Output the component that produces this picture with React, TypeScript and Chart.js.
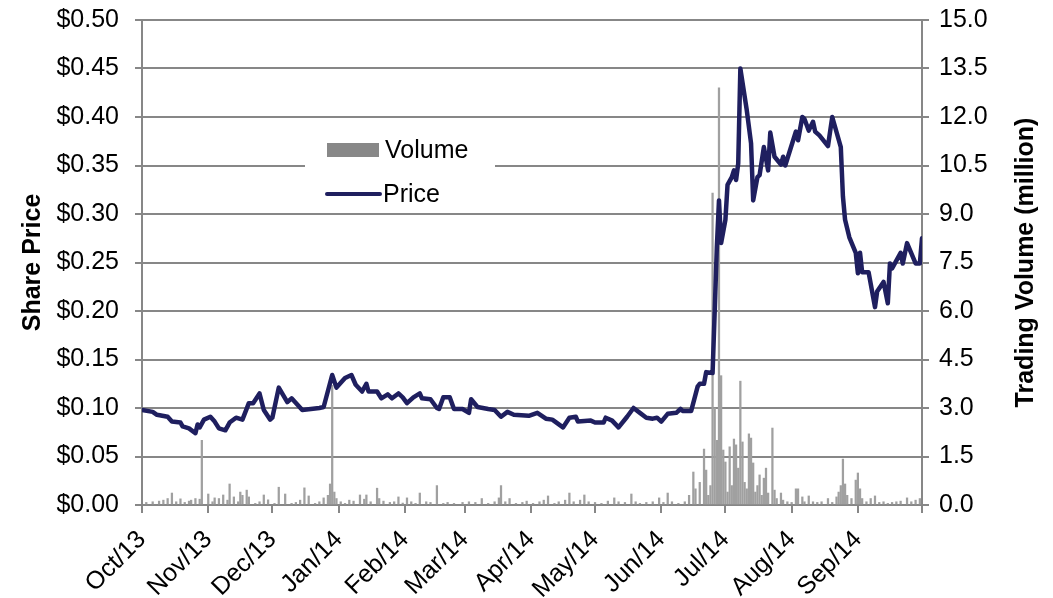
import React, { useEffect, useRef } from "react";
import { Chart, registerables } from "chart.js";

Chart.register(...registerables);

// Day index counted from 1 Oct 2013
const monthTickDays = [0, 31, 61, 92, 123, 151, 182, 212, 243, 273, 304, 335, 365];
const monthLabels = ["Oct/13", "Nov/13", "Dec/13", "Jan/14", "Feb/14", "Mar/14", "Apr/14", "May/14", "Jun/14", "Jul/14", "Aug/14", "Sep/14", ""];

const priceDays = [0, 5, 7, 12, 14, 18, 19, 22, 25, 26, 27, 29, 32, 34, 36, 39, 41, 44, 47, 50, 52, 55, 57, 60, 61, 64, 68, 70, 75, 83, 85, 89, 91, 93, 95, 98, 100, 103, 105, 106, 110, 112, 115, 117, 120, 122, 124, 127, 130, 131, 135, 138, 139, 141, 144, 146, 150, 153, 154, 157, 162, 165, 168, 171, 174, 181, 185, 189, 192, 197, 200, 203, 204, 210, 212, 216, 217, 220, 223, 227, 230, 233, 236, 239, 241, 243, 246, 250, 252, 253, 257, 260, 261, 263, 264, 267, 268, 269, 270, 271, 273, 274, 276, 277, 278, 279, 280, 283, 285, 286, 288, 289, 291, 293, 294, 296, 299, 300, 301, 306, 307, 309, 310, 312, 314, 315, 317, 321, 323, 327, 328, 329, 331, 334, 335, 336, 337, 340, 343, 344, 347, 349, 350, 351, 355, 356, 358, 362, 364, 365];
const priceValues = [0.098, 0.096, 0.093, 0.091, 0.086, 0.085, 0.081, 0.079, 0.074, 0.083, 0.080, 0.088, 0.091, 0.086, 0.079, 0.077, 0.085, 0.090, 0.088, 0.105, 0.105, 0.115, 0.098, 0.088, 0.090, 0.121, 0.106, 0.110, 0.098, 0.100, 0.101, 0.134, 0.121, 0.126, 0.131, 0.134, 0.124, 0.117, 0.125, 0.117, 0.117, 0.110, 0.114, 0.110, 0.115, 0.111, 0.105, 0.111, 0.115, 0.110, 0.109, 0.100, 0.099, 0.111, 0.111, 0.099, 0.099, 0.095, 0.109, 0.101, 0.099, 0.098, 0.091, 0.096, 0.093, 0.092, 0.095, 0.089, 0.088, 0.080, 0.090, 0.091, 0.086, 0.087, 0.085, 0.085, 0.090, 0.087, 0.080, 0.091, 0.100, 0.095, 0.090, 0.089, 0.090, 0.086, 0.094, 0.095, 0.099, 0.097, 0.097, 0.122, 0.125, 0.125, 0.137, 0.136, 0.200, 0.266, 0.314, 0.270, 0.294, 0.330, 0.338, 0.345, 0.335, 0.352, 0.450, 0.407, 0.373, 0.314, 0.338, 0.340, 0.369, 0.345, 0.384, 0.359, 0.351, 0.359, 0.350, 0.385, 0.376, 0.400, 0.398, 0.386, 0.395, 0.385, 0.381, 0.370, 0.400, 0.369, 0.318, 0.294, 0.276, 0.260, 0.239, 0.260, 0.240, 0.240, 0.204, 0.220, 0.230, 0.208, 0.249, 0.244, 0.260, 0.249, 0.270, 0.249, 0.249, 0.275];

const volumeDays = [2, 5, 8, 10, 12, 14, 16, 18, 20, 22, 23, 25, 27, 28, 31, 33, 34, 36, 38, 40, 41, 43, 45, 46, 47, 49, 50, 53, 55, 57, 59, 62, 64, 67, 70, 72, 74, 76, 78, 81, 83, 85, 87, 88, 89, 90, 91, 93, 95, 97, 99, 102, 104, 105, 107, 110, 111, 113, 116, 118, 120, 122, 124, 126, 128, 130, 133, 135, 138, 141, 143, 146, 150, 153, 156, 159, 162, 165, 167, 168, 170, 172, 175, 178, 180, 183, 186, 188, 190, 193, 195, 198, 200, 202, 205, 207, 209, 212, 215, 218, 221, 223, 226, 229, 231, 233, 236, 239, 242, 244, 246, 248, 251, 254, 256, 258, 259, 261, 263, 264, 265, 266, 267, 268, 269, 270, 271, 272, 273, 274, 275, 276, 277, 278, 279, 280, 281, 282, 283, 284, 285, 286, 287, 288, 289, 290, 291, 292, 293, 295, 296, 297, 299, 300, 302, 304, 306, 307, 309, 310, 312, 314, 316, 318, 321, 323, 325, 326, 327, 328, 329, 330, 332, 334, 335, 336, 337, 339, 341, 343, 345, 347, 349, 351, 353, 355, 358, 360, 362, 364];
const volumeValues = [0.08, 0.1, 0.12, 0.15, 0.2, 0.37, 0.1, 0.19, 0.08, 0.12, 0.15, 0.2, 0.18, 2.0, 0.34, 0.1, 0.22, 0.2, 0.31, 0.15, 0.65, 0.25, 0.1, 0.4, 0.3, 0.46, 0.25, 0.05, 0.1, 0.31, 0.16, 0.05, 0.55, 0.34, 0.05, 0.08, 0.15, 0.53, 0.28, 0.05, 0.1, 0.22, 0.3, 0.65, 3.7, 0.4, 0.2, 0.1, 0.05, 0.15, 0.12, 0.31, 0.18, 0.31, 0.1, 0.52, 0.2, 0.12, 0.08, 0.1, 0.25, 0.06, 0.22, 0.1, 0.05, 0.37, 0.1, 0.08, 0.6, 0.05, 0.08, 0.05, 0.08, 0.1, 0.08, 0.2, 0.05, 0.1, 0.22, 0.6, 0.1, 0.2, 0.05, 0.08, 0.12, 0.05, 0.1, 0.15, 0.28, 0.05, 0.1, 0.15, 0.37, 0.1, 0.15, 0.31, 0.1, 0.08, 0.05, 0.12, 0.22, 0.1, 0.08, 0.34, 0.1, 0.05, 0.08, 0.1, 0.22, 0.08, 0.37, 0.1, 0.05, 0.1, 0.3, 1.02, 0.5, 0.7, 1.73, 1.08, 0.3, 0.6, 9.65, 3.0, 2.0, 12.9, 4.0, 1.7, 1.33, 0.4, 1.8, 0.6, 2.04, 1.86, 1.14, 3.83, 1.95, 0.7, 0.5, 2.2, 2.07, 1.3, 0.4, 0.6, 0.93, 0.3, 0.83, 1.14, 0.37, 2.38, 0.46, 0.2, 0.37, 0.15, 0.1, 0.08, 0.5, 0.5, 0.25, 0.1, 0.28, 0.1, 0.08, 0.1, 0.2, 0.08, 0.25, 0.4, 0.6, 1.42, 0.65, 0.3, 0.2, 0.77, 0.99, 0.5, 0.2, 0.1, 0.2, 0.28, 0.08, 0.1, 0.05, 0.08, 0.1, 0.12, 0.22, 0.1, 0.15, 0.2];

const priceTicks = [0, 0.05, 0.1, 0.15, 0.2, 0.25, 0.3, 0.35, 0.4, 0.45, 0.5];
const volumeTicks = [0, 1.5, 3, 4.5, 6, 7.5, 9, 10.5, 12, 13.5, 15];

const FONT = "'Liberation Sans', Arial, sans-serif";
const GRID = "#878787";
const PRICE_COLOR = "#1f1f5f";
const VOLUME_COLOR = "#a0a0a0";

const overlayPlugin = {
  id: "overlay",
  afterDraw(chart: any) {
    const { ctx, chartArea } = chart;
    const L = chartArea.left;
    const T = chartArea.top;
    ctx.save();
    // legend box
    ctx.fillStyle = "#ffffff";
    ctx.fillRect(L + 163, T + 110, 190, 82);
    const ds = chart.data.datasets;
    ctx.font = `25px ${FONT}`;
    ctx.textBaseline = "middle";
    ctx.textAlign = "left";
    // Volume
    ctx.fillStyle = "#888888";
    ctx.fillRect(L + 185, T + 123, 52, 14);
    ctx.fillStyle = "#000";
    ctx.fillText(ds[0].label, L + 243, T + 131);
    // Price
    ctx.strokeStyle = PRICE_COLOR;
    ctx.lineWidth = 4;
    ctx.lineCap = "round";
    ctx.beginPath();
    ctx.moveTo(L + 185, T + 174);
    ctx.lineTo(L + 238, T + 174);
    ctx.stroke();
    ctx.fillText(ds[1].label, L + 241, T + 175);
    // axis titles
    const midY = (chartArea.top + chartArea.bottom) / 2;
    ctx.font = `bold 25px ${FONT}`;
    ctx.textAlign = "center";
    ctx.save();
    ctx.translate(33, midY);
    ctx.rotate(-Math.PI / 2);
    ctx.fillText("Share Price", 0, 0);
    ctx.restore();
    ctx.save();
    ctx.translate(1026, midY);
    ctx.rotate(-Math.PI / 2);
    ctx.fillText("Trading Volume (million)", 0, 0);
    ctx.restore();
    ctx.restore();
  },
};

const trimPadding = (scale: any) => {
  scale.paddingTop = 10;
  scale.paddingBottom = 10;
};

export default function App() {
  const canvasRef = useRef<HTMLCanvasElement | null>(null);

  useEffect(() => {
    if (!canvasRef.current) return;
    const chart = new Chart(canvasRef.current, {
      type: "bar",
      data: {
        datasets: [
          {
            type: "bar",
            label: "Volume",
            data: volumeDays.map((d, i) => ({ x: d, y: volumeValues[i] })),
            backgroundColor: VOLUME_COLOR,
            borderWidth: 0,
            barThickness: 1.6,
            yAxisID: "yVol",
            order: 2,
          },
          {
            type: "line",
            label: "Price",
            data: priceDays.map((d, i) => ({ x: d, y: priceValues[i] })),
            borderColor: PRICE_COLOR,
            backgroundColor: PRICE_COLOR,
            borderWidth: 4.5,
            borderJoinStyle: "round",
            borderCapStyle: "round",
            pointRadius: 0,
            tension: 0,
            yAxisID: "yPrice",
            order: 1,
          },
        ] as any,
      },
      options: {
        animation: false,
        responsive: true,
        maintainAspectRatio: false,
        layout: { padding: { top: 20, left: 0, right: 0, bottom: 0 } },
        plugins: {
          legend: { display: false },
          tooltip: { enabled: false },
        },
        events: [],
        scales: {
          x: {
            type: "linear",
            min: 0,
            max: 365,
            offset: false,
            afterBuildTicks: (scale: any) => {
              scale.ticks = monthTickDays.map((v) => ({ value: v }));
            },
            afterFit: (scale: any) => {
              scale.height = 93;
            },
            ticks: {
              autoSkip: false,
              minRotation: 45,
              maxRotation: 45,
              padding: 12,
              color: "#000",
              font: { family: FONT, size: 25 },
              callback: (value: any) => {
                const i = monthTickDays.indexOf(Number(value));
                return i >= 0 ? monthLabels[i] : "";
              },
            },
            grid: { offset: false, drawOnChartArea: false, drawTicks: true, tickLength: 8, color: GRID, lineWidth: 2 },
            border: { display: true, color: GRID, width: 2 },
          },
          yPrice: {
            type: "linear",
            position: "left",
            min: 0,
            max: 0.5,
            afterBuildTicks: (scale: any) => {
              scale.ticks = priceTicks.map((v) => ({ value: v }));
            },
            afterFit: (scale: any) => {
              scale.width = 142;
              trimPadding(scale);
            },
            ticks: {
              padding: 16,
              color: "#000",
              font: { family: FONT, size: 25 },
              callback: (value: any) => "$" + Number(value).toFixed(2),
            },
            grid: { color: GRID, lineWidth: 2, tickLength: 7 },
            border: { display: true, color: GRID, width: 2 },
          },
          yVol: {
            type: "linear",
            position: "right",
            min: 0,
            max: 15,
            afterBuildTicks: (scale: any) => {
              scale.ticks = volumeTicks.map((v) => ({ value: v }));
            },
            afterFit: (scale: any) => {
              scale.width = 131;
              trimPadding(scale);
            },
            ticks: {
              padding: 10,
              color: "#000",
              font: { family: FONT, size: 25 },
              callback: (value: any) => Number(value).toFixed(1),
            },
            grid: { drawOnChartArea: false, color: GRID, lineWidth: 2, tickLength: 7 },
            border: { display: true, color: GRID, width: 2 },
          },
        },
      } as any,
      plugins: [overlayPlugin],
    });
    return () => chart.destroy();
  }, []);

  return (
    <div style={{ position: "fixed", left: 0, top: 0, width: 1053, height: 598, background: "#fff" }}>
      <canvas ref={canvasRef} />
    </div>
  );
}
